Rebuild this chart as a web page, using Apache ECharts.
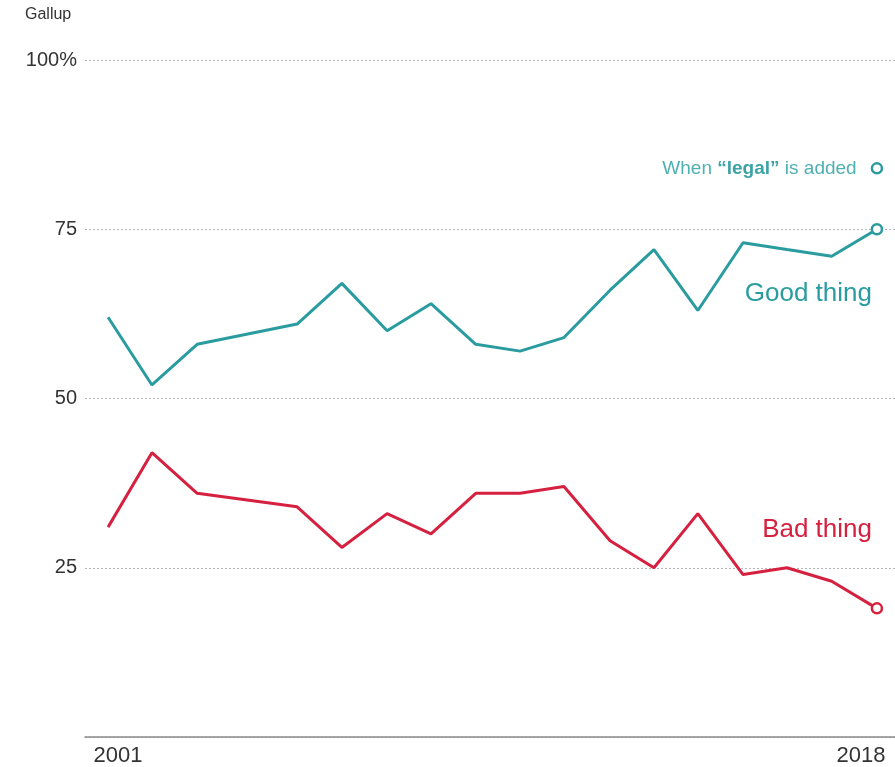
<!DOCTYPE html>
<html>
<head>
<meta charset="utf-8">
<style>
  html, body { margin: 0; padding: 0; background: #fff; }
  #chart { width: 895px; height: 767px; }
</style>
<script src="https://cdn.jsdelivr.net/npm/echarts@6/dist/echarts.min.js"></script>
</head>
<body>
<div id="chart"></div>
<script>
// survey dates (decimal years) and shares
var surveyDates = [2001.0, 2001.97, 2002.97, 2005.18, 2006.17, 2007.17, 2008.14, 2009.13,
  2010.11, 2011.08, 2012.1, 2013.07, 2014.04, 2015.04, 2016.01, 2017.0, 2018.0];
var goodThing = [62, 52, 58, 61, 67, 60, 64, 58, 57, 59, 66, 72, 63, 73, 72, 71, 75];
var badThing = [31, 42, 36, 34, 28, 33, 30, 36, 36, 37, 29, 25, 33, 24, 25, 23, 19];
var legalAdded = [[2018.0, 84]];
var xTicks = [2001, 2018];

var teal = "#2a9ca0";
var red = "#d6203f";

function pairs(ys) {
  return ys.map(function (v, i) {
    return [surveyDates[i], v];
  });
}

// last point drawn as hollow ring
function lastRing(ys, color) {
  var d = pairs(ys);
  d[d.length - 1] = {
    value: d[d.length - 1],
    symbol: "circle",
    symbolSize: 10,
    itemStyle: { color: "#fff", borderColor: color, borderWidth: 2.5, opacity: 1 }
  };
  return d;
}

var chart = echarts.init(document.getElementById("chart"));
var font = "'Liberation Sans', Arial, sans-serif";

var option = {
  animation: false,
  textStyle: { fontFamily: font },
  grid: { left: 85, right: 0, top: 60, bottom: 29, containLabel: false },
  xAxis: {
    type: "value",
    min: 2000.49,
    max: 2018.4,
    splitLine: { show: false },
    axisTick: { show: false },
    axisLine: { show: true, lineStyle: { color: "#8a8a8a", width: 1.5 } },
    axisLabel: {
      customValues: xTicks,
      margin: 8,
      fontSize: 22,
      color: "#333",
      formatter: function (v) {
        return v === 2001 ? "{a|2001}" : "{b|2018}";
      },
      rich: {
        a: { fontSize: 22, color: "#333", padding: [0, 0, 0, 20] },
        b: { fontSize: 22, color: "#333", padding: [0, 32, 0, 0] }
      }
    }
  },
  yAxis: {
    type: "value",
    min: 0,
    max: 100,
    interval: 25,
    axisLine: { show: false },
    axisTick: { show: false },
    axisLabel: {
      margin: 8,
      fontSize: 20,
      color: "#333",
      formatter: function (v) {
        if (v === 0) return "";
        return v === 100 ? "100%" : String(v);
      }
    },
    splitLine: {
      show: true,
      lineStyle: { color: "#b5b5b5", type: [2, 2], width: 1 }
    }
  },
  graphic: [
    {
      type: "text",
      left: 25,
      top: 7,
      style: { text: "Gallup", fontSize: 16, fill: "#333", fontFamily: font }
    },
    {
      type: "text",
      right: 23,
      top: 281,
      style: { text: "Good thing", fontSize: 26, fill: teal, fontFamily: font }
    },
    {
      type: "text",
      right: 23,
      top: 517,
      style: { text: "Bad thing", fontSize: 26, fill: red, fontFamily: font }
    }
  ],
  series: [
    {
      name: "Good thing",
      type: "line",
      data: lastRing(goodThing, teal),
      symbol: "none",
      lineStyle: { color: teal, width: 3 },
      itemStyle: { color: teal },
      z: 3
    },
    {
      name: "Bad thing",
      type: "line",
      data: lastRing(badThing, red),
      symbol: "none",
      lineStyle: { color: red, width: 3 },
      itemStyle: { color: red },
      z: 3
    },
    {
      name: "Legal added",
      type: "scatter",
      data: legalAdded,
      symbol: "circle",
      symbolSize: 10,
      itemStyle: { color: "#fff", borderColor: teal, borderWidth: 2.5, opacity: 1 },
      label: {
        show: true,
        position: "left",
        distance: 14,
        formatter: "{n|When }{b|\u201clegal\u201d}{n| is added}",
        rich: {
          n: { fontSize: 19, color: "#4fb0b1", fontFamily: font },
          b: { fontSize: 19, color: "#3aa3a6", fontWeight: "bold", fontFamily: font }
        }
      },
      z: 4
    }
  ]
};

chart.setOption(option);
window.addEventListener("resize", chart.resize);
</script>
</body>
</html>
